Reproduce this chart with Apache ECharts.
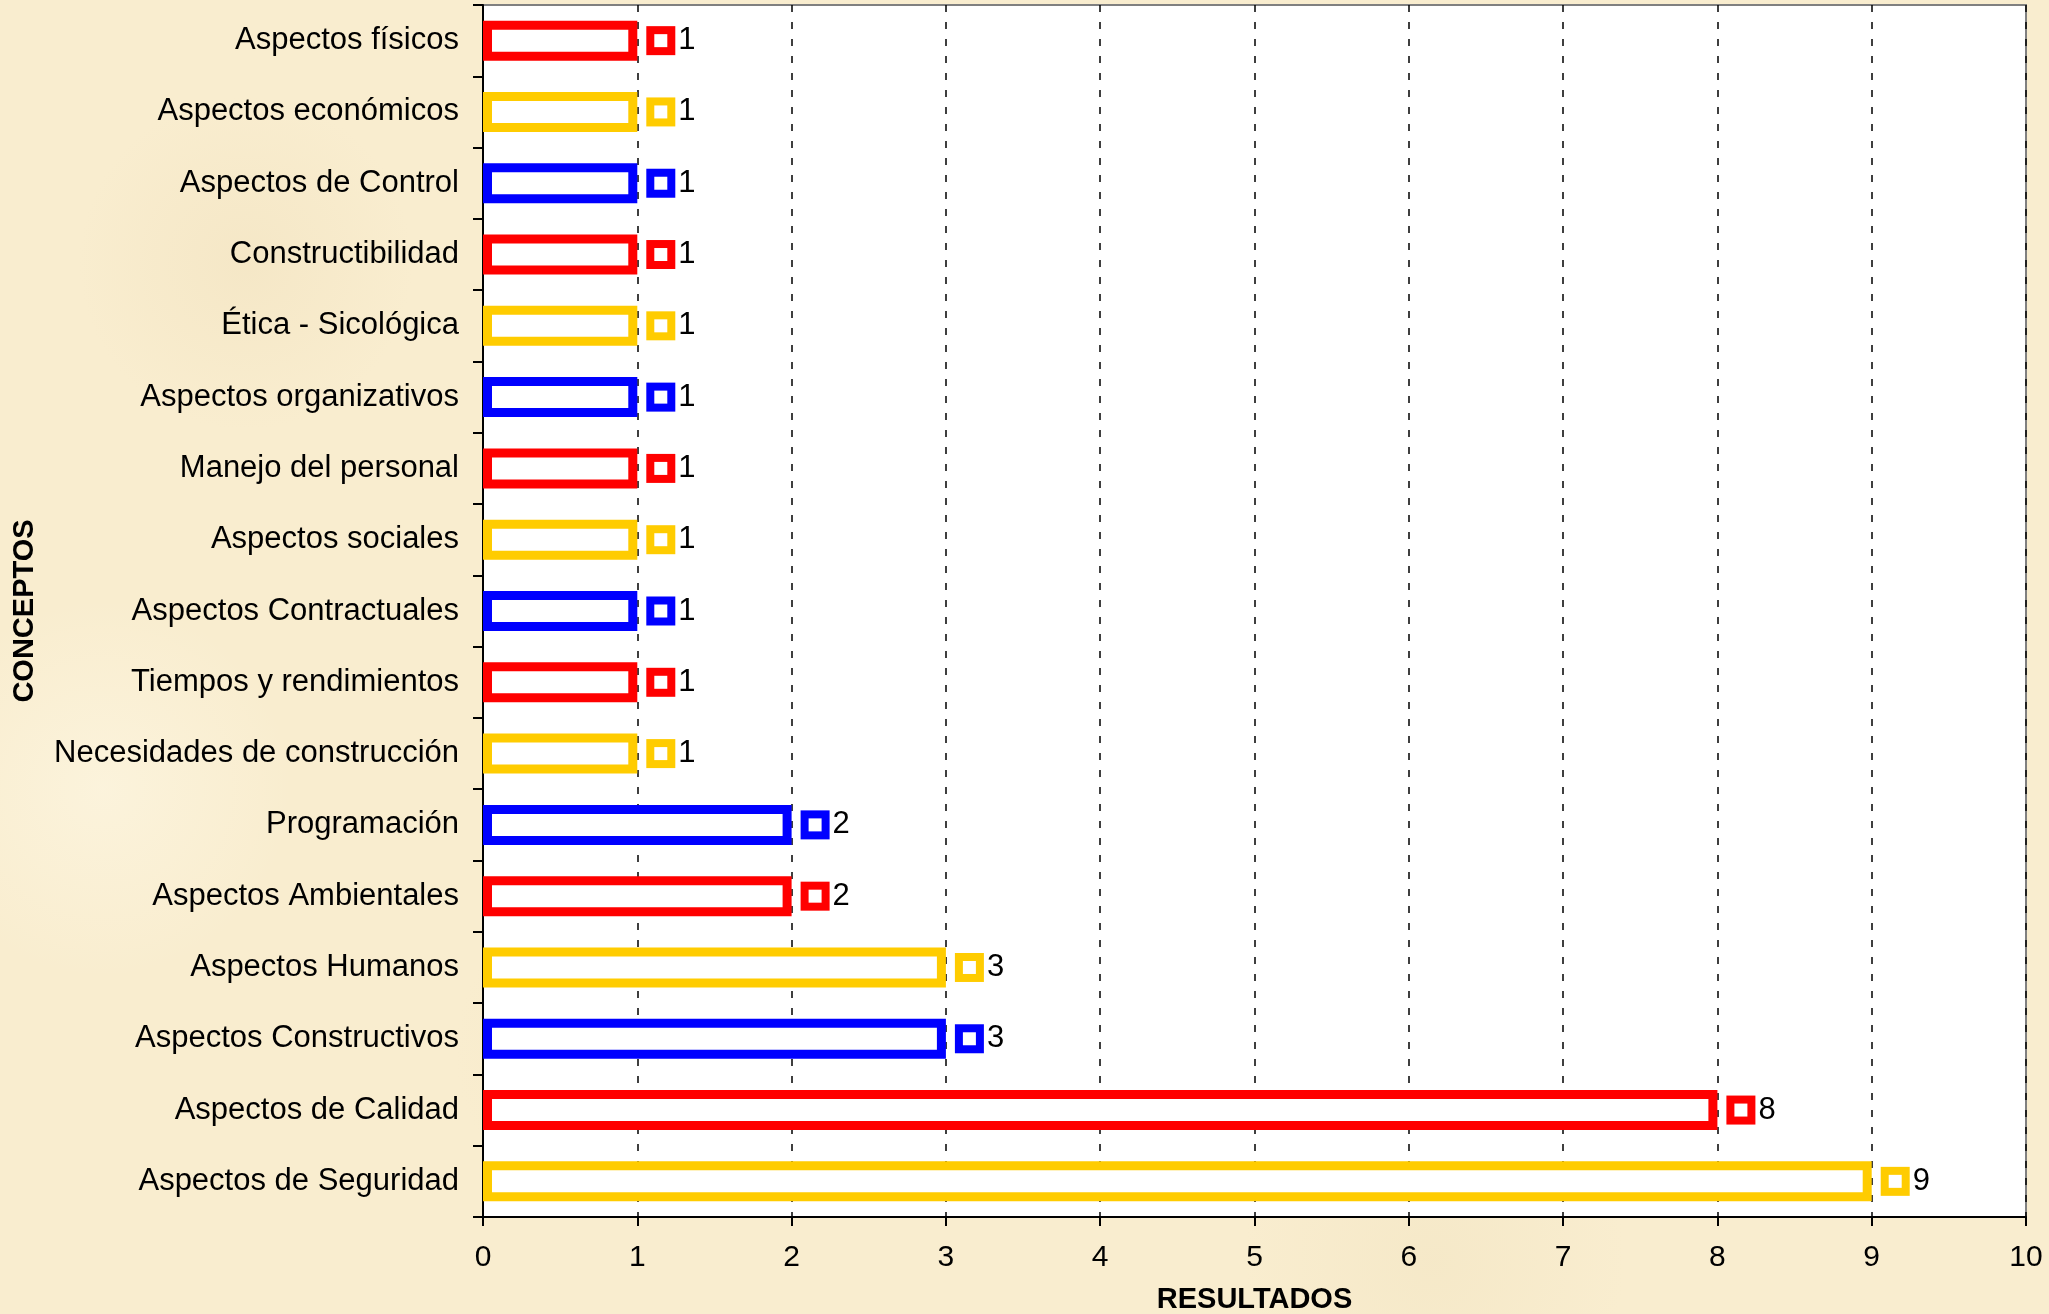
<!DOCTYPE html>
<html>
<head>
<meta charset="utf-8">
<script src="https://cdn.jsdelivr.net/npm/echarts@6/dist/echarts.min.js"></script>
<style>
  html, body { margin: 0; padding: 0; }
  body {
    width: 2049px; height: 1314px;
    background-color: #f9edcf;
    background-image:
      radial-gradient(circle at 12% 20%, rgba(240, 224, 188, 0.45) 0, rgba(240, 224, 188, 0) 8%),
      radial-gradient(circle at 30% 80%, rgba(242, 228, 192, 0.4) 0, rgba(242, 228, 192, 0) 9%),
      radial-gradient(circle at 70% 96%, rgba(240, 226, 190, 0.4) 0, rgba(240, 226, 190, 0) 10%),
      radial-gradient(circle at 5% 60%, rgba(253, 247, 228, 0.6) 0, rgba(253, 247, 228, 0) 9%);
  }
  #chart { width: 2049px; height: 1314px; }
</style>
</head>
<body>
<div id="chart"></div>
<script>
// categorías de arriba hacia abajo
const categories = [
  'Aspectos físicos',
  'Aspectos económicos',
  'Aspectos de Control',
  'Constructibilidad',
  'Ética - Sicológica',
  'Aspectos organizativos',
  'Manejo del personal',
  'Aspectos sociales',
  'Aspectos Contractuales',
  'Tiempos y rendimientos',
  'Necesidades de construcción',
  'Programación',
  'Aspectos Ambientales',
  'Aspectos Humanos',
  'Aspectos Constructivos',
  'Aspectos de Calidad',
  'Aspectos de Seguridad'
]
const values = [1, 1, 1, 1, 1, 1, 1, 1, 1, 1, 1, 2, 2, 3, 3, 8, 9]
// colores que se repiten: rojo, amarillo, azul
const palette = ['#ff0000', '#ffcc00', '#0000ff']
const xTicks = [0, 1, 2, 3, 4, 5, 6, 7, 8, 9, 10]

const myChart = echarts.init(document.getElementById('chart'))
const font = '"Liberation Sans", Arial, sans-serif'

const options = {
  backgroundColor: 'transparent',
  textStyle: { fontFamily: font, color: '#000' },
  grid: {
    left: 483,
    right: 23,
    top: 5,
    bottom: 97,
    outerBoundsMode: 'none',
    containLabel: false,
    show: true,
    backgroundColor: '#ffffff',
    borderColor: '#808080',
    borderWidth: 2
  },
  xAxis: {
    type: 'value',
    min: xTicks[0],
    max: xTicks[xTicks.length - 1],
    interval: 1,
    name: 'RESULTADOS',
    nameLocation: 'middle',
    nameGap: 68,
    nameTextStyle: { fontFamily: font, fontWeight: 'bold', fontSize: 29, color: '#000' },
    axisLine: { show: true, lineStyle: { color: '#000', width: 2 } },
    axisTick: { show: true, length: 9, lineStyle: { color: '#000', width: 2 } },
    axisLabel: { fontFamily: font, fontSize: 30, color: '#000', margin: 26 },
    splitLine: {
      show: true,
      lineStyle: { color: '#000', width: 1.5, type: [7, 10] }
    }
  },
  yAxis: {
    type: 'category',
    data: categories,
    inverse: true,
    name: 'CONCEPTOS',
    nameLocation: 'middle',
    nameRotate: 90,
    nameGap: 444,
    nameTextStyle: { fontFamily: font, fontWeight: 'bold', fontSize: 29, color: '#000' },
    axisLine: { show: true, lineStyle: { color: '#000', width: 2 } },
    axisTick: { show: true, length: 10, lineStyle: { color: '#000', width: 2 } },
    axisLabel: { fontFamily: font, fontSize: 31, color: '#000', margin: 24 }
  },
  series: [
    {
      type: 'bar',
      barWidth: 40,
      z: 3,
      data: values.map((v, i) => {
        const color = palette[i % 3]
        return {
          value: v,
          itemStyle: { color: '#ffffff', borderColor: color, borderWidth: 9 },
          label: {
            rich: {
              sq: {
                width: 13,
                height: 13,
                backgroundColor: '#ffffff',
                borderColor: color,
                borderWidth: 8
              },
              v: {
                fontFamily: font,
                fontSize: 31,
                color: '#000',
                padding: [0, 0, 0, 11]
              }
            }
          }
        }
      }),
      label: {
        show: true,
        position: 'right',
        distance: 17,
        formatter: p => '{sq|}{v|' + p.value + '}'
      }
    }
  ]
}
myChart.setOption(options)
</script>
</body>
</html>
